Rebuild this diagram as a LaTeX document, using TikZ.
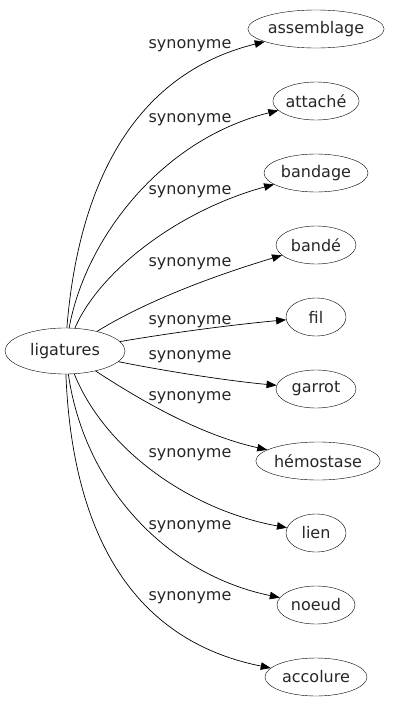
\documentclass[tikz,border=0pt]{standalone}
\usepackage{fontspec}
\setmainfont{DejaVu Sans}
\usetikzlibrary{shapes.geometric,arrows.meta}
\begin{document}
\begin{tikzpicture}[x=1pt,y=-1pt,
  term/.style={draw,ellipse,inner sep=0pt,minimum height=38pt,text=black!85,font=\fontsize{16}{19}\selectfont},
  lab/.style={font=\fontsize{16}{19}\selectfont,text=black!85,inner sep=0pt},
  syn/.style={-{Triangle[length=10pt,width=7.5pt]},line width=0.7pt}]
\useasboundingbox (0,0) rectangle (402,707);
\node[term,minimum width=120pt,minimum height=46pt] (lig) at (65,351) {ligatures};
\node[term,minimum width=134pt] (t1) at (316,29) {assemblage};
\node[term,minimum width=78pt] (t2) at (316,101) {attaché};
\node[term,minimum width=104pt] (t3) at (316,173) {bandage};
\node[term,minimum width=80pt] (t4) at (316,245) {bandé};
\node[term,minimum width=60pt] (t5) at (316,317) {fil};
\node[term,minimum width=80pt] (t6) at (316,389) {garrot};
\node[term,minimum width=112pt] (t7) at (318,461) {hémostase};
\node[term,minimum width=60pt] (t8) at (316,533) {lien};
\node[term,minimum width=78pt] (t9) at (316,605) {noeud};
\node[term,minimum width=102pt] (t10) at (316,677) {accolure};
\draw[syn] (lig) .. controls (78,190) and (130,75) .. (t1);
\draw[syn] (lig) .. controls (85,240) and (160,140) .. (t2);
\draw[syn] (lig) .. controls (100,270) and (180,210) .. (t3);
\draw[syn] (lig) .. controls (140,305) and (200,280) .. (t4);
\draw[syn] (lig) .. controls (170,333) and (230,325) .. (t5);
\draw[syn] (lig) .. controls (170,372) and (230,381) .. (t6);
\draw[syn] (lig) .. controls (140,400) and (200,435) .. (t7);
\draw[syn] (lig) .. controls (105,450) and (190,510) .. (t8);
\draw[syn] (lig) .. controls (85,490) and (170,575) .. (t9);
\draw[syn] (lig) .. controls (72,530) and (130,640) .. (t10);
\node[lab] (l1) at (190,46) {synonyme};
\node[lab] (l2) at (190,120) {synonyme};
\node[lab] (l3) at (190,192) {synonyme};
\node[lab] (l4) at (190,264) {synonyme};
\node[lab] (l5) at (190,322) {synonyme};
\node[lab] (l6) at (190,357) {synonyme};
\node[lab] (l7) at (190,398) {synonyme};
\node[lab] (l8) at (190,455) {synonyme};
\node[lab] (l9) at (190,527) {synonyme};
\node[lab] (l10) at (190,598) {synonyme};
\end{tikzpicture}
\end{document}
